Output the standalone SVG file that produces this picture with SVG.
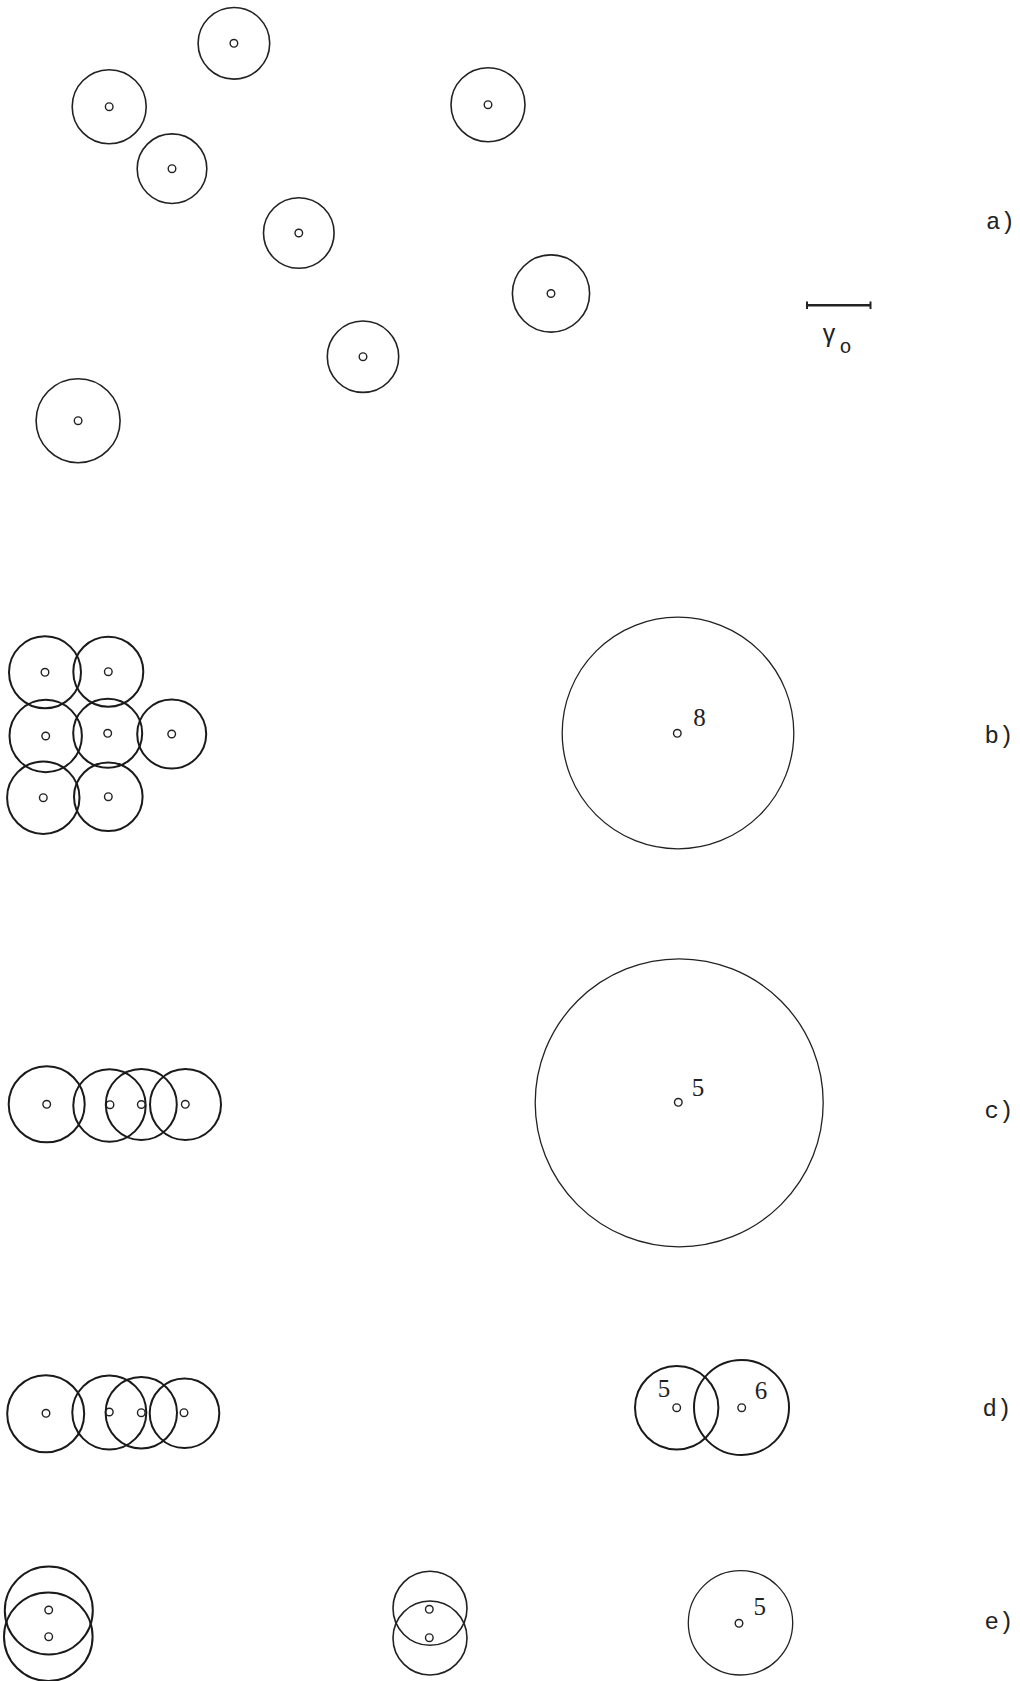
<svg xmlns="http://www.w3.org/2000/svg" width="1020" height="1681" viewBox="0 0 1020 1681">
<style>
.c{fill:none;stroke:#222;stroke-width:1.6}
.t{fill:none;stroke:#1a1a1a;stroke-width:2}
.b{fill:none;stroke:#222;stroke-width:1.3}
.d{fill:#fff;stroke:#222;stroke-width:1.4}
.lab{font-family:"Liberation Mono","DejaVu Sans Mono",monospace;font-size:24px;fill:#222;text-anchor:middle}
.num{font-family:"Liberation Serif","DejaVu Serif",serif;font-size:25px;fill:#222;text-anchor:middle}
</style>
<rect width="1020" height="1681" fill="#fff"/>
<!-- a) -->
<g id="a1"><circle class="c" cx="233.9" cy="43.3" r="35.8"/><circle class="d" cx="233.9" cy="43.3" r="3.8"/></g>
<g id="a2"><circle class="c" cx="109.2" cy="106.7" r="37"/><circle class="d" cx="109.2" cy="106.7" r="3.8"/></g>
<g id="a3"><circle class="c" cx="172" cy="168.7" r="34.8"/><circle class="d" cx="172" cy="168.7" r="3.8"/></g>
<g id="a4"><circle class="c" cx="298.8" cy="233" r="35.3"/><circle class="d" cx="298.8" cy="233" r="3.8"/></g>
<g id="a5"><circle class="c" cx="488" cy="104.7" r="37"/><circle class="d" cx="488" cy="104.7" r="3.8"/></g>
<g id="a6"><circle class="c" cx="551" cy="293.5" r="38.6"/><circle class="d" cx="551" cy="293.5" r="3.8"/></g>
<g id="a7"><circle class="c" cx="363" cy="356.7" r="35.7"/><circle class="d" cx="363" cy="356.7" r="3.8"/></g>
<g id="a8"><circle class="c" cx="78.1" cy="420.7" r="42"/><circle class="d" cx="78.1" cy="420.7" r="3.8"/></g>
<g id="scale">
<line x1="807" y1="305.3" x2="870.5" y2="305.3" stroke="#222" stroke-width="2.6"/>
<line x1="807" y1="301.5" x2="807" y2="309" stroke="#222" stroke-width="2"/>
<line x1="870.5" y1="301.5" x2="870.5" y2="309" stroke="#222" stroke-width="2"/>
<text x="829" y="342" font-family="Liberation Sans, DejaVu Sans, sans-serif" font-size="25" fill="#222" text-anchor="middle">γ<tspan x="845.5" y="353" font-family="Liberation Mono, monospace" font-size="20">o</tspan></text>
</g>
<text class="lab" x="1000.5" y="229">a)</text>
<!-- b) -->
<g id="b1"><circle class="t" cx="45" cy="672.3" r="36"/><circle class="d" cx="45" cy="672.3" r="3.8"/></g>
<g id="b2"><circle class="t" cx="108.3" cy="671.7" r="35"/><circle class="d" cx="108.3" cy="671.7" r="3.8"/></g>
<g id="b3"><circle class="t" cx="45.7" cy="736" r="36.2"/><circle class="d" cx="45.7" cy="736" r="3.8"/></g>
<g id="b4"><circle class="t" cx="107.7" cy="733.3" r="34.5"/><circle class="d" cx="107.7" cy="733.3" r="3.8"/></g>
<g id="b5"><circle class="t" cx="171.7" cy="734" r="34.5"/><circle class="d" cx="171.7" cy="734" r="3.8"/></g>
<g id="b6"><circle class="t" cx="43.3" cy="797.7" r="36.2"/><circle class="d" cx="43.3" cy="797.7" r="3.8"/></g>
<g id="b7"><circle class="t" cx="108.3" cy="796.7" r="34.3"/><circle class="d" cx="108.3" cy="796.7" r="3.8"/></g>
<g id="b8"><circle class="b" cx="678" cy="733" r="115.8"/><circle class="d" cx="677.3" cy="733.3" r="3.8"/><text class="num" x="699.5" y="726">8</text></g>
<text class="lab" x="999" y="743">b)</text>
<!-- c) -->
<g id="c1"><circle class="t" cx="46.7" cy="1104.3" r="38"/><circle class="d" cx="46.7" cy="1104.3" r="3.8"/></g>
<g id="c2"><circle class="t" cx="109.5" cy="1105.5" r="36.2"/><circle class="d" cx="110" cy="1104.7" r="3.8"/></g>
<g id="c3"><circle class="t" cx="141.3" cy="1104.5" r="35.5"/><circle class="d" cx="141.3" cy="1104.5" r="3.8"/></g>
<g id="c4"><circle class="t" cx="185.5" cy="1104.5" r="35.5"/><circle class="d" cx="185.3" cy="1104.3" r="3.8"/></g>
<g id="c5"><circle class="b" cx="679.2" cy="1102.8" r="144"/><circle class="d" cx="678.3" cy="1102.3" r="3.8"/><text class="num" x="698" y="1096">5</text></g>
<text class="lab" x="999" y="1118">c)</text>
<!-- d) -->
<g id="d1"><circle class="t" cx="45.7" cy="1413.7" r="38.5"/><circle class="d" cx="46" cy="1413.3" r="3.8"/></g>
<g id="d2"><circle class="t" cx="109.3" cy="1412.5" r="37"/><circle class="d" cx="109.3" cy="1412" r="3.8"/></g>
<g id="d3"><circle class="t" cx="141.3" cy="1412.8" r="35.7"/><circle class="d" cx="141.3" cy="1412.7" r="3.8"/></g>
<g id="d4"><circle class="t" cx="184.5" cy="1413.3" r="34.8"/><circle class="d" cx="184" cy="1412.7" r="3.8"/></g>
<g id="d5"><circle class="t" cx="676.7" cy="1407.7" r="41.7"/><circle class="d" cx="676.7" cy="1407.7" r="3.8"/><text class="num" x="664" y="1397">5</text></g>
<g id="d6"><circle class="t" cx="741.5" cy="1407.5" r="47.5"/><circle class="d" cx="741.7" cy="1407.7" r="3.8"/><text class="num" x="761" y="1399">6</text></g>
<text class="lab" x="997" y="1416">d)</text>
<!-- e) -->
<g id="e1"><circle class="t" cx="48.8" cy="1610.5" r="44"/><circle class="d" cx="48.7" cy="1610" r="3.8"/></g>
<g id="e2"><circle class="t" cx="48.3" cy="1636.7" r="44.3"/><circle class="d" cx="48.7" cy="1636.7" r="3.8"/></g>
<g id="e3"><circle class="c" cx="430" cy="1608.3" r="37"/><circle class="d" cx="429.3" cy="1609.3" r="3.8"/></g>
<g id="e4"><circle class="c" cx="430" cy="1638" r="37"/><circle class="d" cx="429.3" cy="1637.7" r="3.8"/></g>
<g id="e5"><circle class="b" cx="740.5" cy="1622.8" r="52.2"/><circle class="d" cx="739" cy="1623.3" r="3.8"/><text class="num" x="759.7" y="1615">5</text></g>
<text class="lab" x="999" y="1629">e)</text>
<g id="connectors"/>
</svg>
